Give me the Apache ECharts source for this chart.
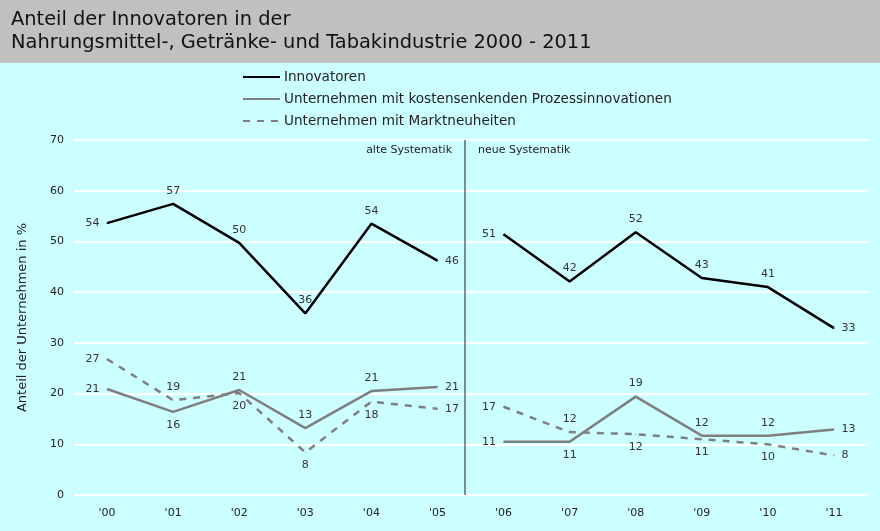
<!DOCTYPE html>
<html>
<head>
<meta charset="utf-8">
<script src="https://cdn.jsdelivr.net/npm/echarts@6/dist/echarts.min.js"></script>
<style>
  html, body { margin: 0; padding: 0; background: #ccffff; }
  #chart { width: 880px; height: 531px; }
</style>
</head>
<body>
<div id="chart"></div>
<script>
// Jahre (Kategorien)
const years = ["'00", "'01", "'02", "'03", "'04", "'05", "'06", "'07", "'08", "'09", "'10", "'11"];

// Anteile in %
const innovatoren = [53.6, 57.4, 49.7, 35.8, 53.5, 46.2, 51.4, 42.1, 51.8, 42.8, 41.0, 32.9];
const prozess = [20.9, 16.4, 20.7, 13.2, 20.5, 21.3, 10.5, 10.5, 19.4, 11.7, 11.7, 12.9];
const markt = [26.8, 18.7, 20.1, 8.4, 18.4, 17.0, 17.4, 12.4, 12.0, 11.0, 10.0, 7.8];

// Bruch zwischen alter und neuer Systematik (nach '05)
const splitIndex = 6;

// wo die Werte-Beschriftung sitzt
const posInno = ['left', 'top', 'top', 'top', 'top', 'right', 'left', 'top', 'top', 'top', 'top', 'right'];
const posProz = ['left', 'bottom', 'top', 'top', 'top', 'right', 'left', 'bottom', 'top', 'top', 'top', 'right'];
const posMarkt = ['left', 'top', 'bottom', 'bottom', 'bottom', 'right', 'left', 'top', 'bottom', 'bottom', 'bottom', 'right'];

const font = 'DejaVu Sans';

// Teilstück (alt oder neu) einer Reihe, Rest bleibt leer
function part(values, positions, newPart) {
    return values.map((v, i) => {
        const inside = newPart ? i >= splitIndex : i < splitIndex;
        if (!inside) return null;
        return { value: v, label: { position: positions[i] } };
    });
}

function makeSeries(name, values, positions, lineStyle) {
    return [false, true].map(newPart => ({
        name: name,
        type: 'line',
        data: part(values, positions, newPart),
        symbol: 'circle',
        symbolSize: 1,
        showSymbol: true,
        connectNulls: false,
        lineStyle: lineStyle,
        itemStyle: { color: lineStyle.color },
        label: {
            show: true,
            distance: 7,
            fontFamily: font,
            fontSize: 11,
            color: '#333',
            formatter: p => Math.round(p.value)
        },
        emphasis: { disabled: true },
        z: 3
    }));
}

const myChart = echarts.init(document.getElementById('chart'));

const option = {
    backgroundColor: '#ccffff',
    animation: false,
    graphic: [
        {
            type: 'rect',
            left: 0,
            top: 0,
            shape: { width: 880, height: 63 },
            style: { fill: '#c0c0c0' },
            z: -1
        },
        {
            type: 'text',
            right: 880 - 452,
            top: 145,
            style: { text: 'alte Systematik', font: '11px DejaVu Sans', fill: '#222' }
        },
        {
            type: 'text',
            left: 478,
            top: 145,
            style: { text: 'neue Systematik', font: '11px DejaVu Sans', fill: '#222' }
        }
    ],
    title: {
        text: 'Anteil der Innovatoren in der\nNahrungsmittel-, Getränke- und Tabakindustrie 2000 - 2011',
        left: 6,
        top: 3,
        textStyle: {
            fontFamily: font,
            fontSize: 19.4,
            fontWeight: 'normal',
            lineHeight: 23,
            color: '#111'
        }
    },
    legend: {
        orient: 'vertical',
        left: 242,
        top: 70,
        padding: 0,
        itemWidth: 37,
        itemHeight: 14,
        itemGap: 8,
        selectedMode: false,
        itemStyle: { color: 'rgba(0,0,0,0)', borderWidth: 0 },
        data: ['Innovatoren', 'Unternehmen mit kostensenkenden Prozessinnovationen', 'Unternehmen mit Marktneuheiten'],
        textStyle: {
            fontFamily: font,
            fontSize: 13.6,
            color: '#222',
            padding: [0, 0, 0, -1]
        }
    },
    grid: {
        left: 74,
        right: 13,
        top: 140,
        bottom: 36
    },
    xAxis: [
        {
            type: 'category',
            data: years,
            boundaryGap: true,
            axisLine: { show: false },
            axisTick: { show: false },
            axisLabel: { fontFamily: font, fontSize: 11, color: '#222', margin: 13 }
        },
        {
            // Hilfsachse für die Trennlinie
            type: 'value',
            min: 0,
            max: years.length,
            show: false
        }
    ],
    yAxis: {
        type: 'value',
        min: 0,
        max: 70,
        interval: 10,
        name: 'Anteil der Unternehmen in %',
        nameLocation: 'middle',
        nameGap: 45,
        nameTextStyle: { fontFamily: font, fontSize: 13, color: '#222' },
        axisLine: { show: false },
        axisTick: { show: false },
        axisLabel: { fontFamily: font, fontSize: 11, color: '#222', margin: 10 },
        splitLine: { lineStyle: { color: '#ffffff', width: 2 } }
    },
    series: [
        ...makeSeries('Innovatoren', innovatoren, posInno, { color: '#000000', width: 2.5 }),
        ...makeSeries('Unternehmen mit kostensenkenden Prozessinnovationen', prozess, posProz, { color: '#7f7f7f', width: 2.5 }),
        ...makeSeries('Unternehmen mit Marktneuheiten', markt, posMarkt, { color: '#7f7f7f', width: 2.5, type: [7, 7] }),
        {
            type: 'line',
            xAxisIndex: 1,
            data: [],
            markLine: {
                symbol: 'none',
                silent: true,
                label: { show: false },
                lineStyle: { color: '#5a6a6a', type: 'solid', width: 1.5 },
                data: [{ xAxis: 5.92 }]
            }
        }
    ]
};

myChart.setOption(option);
</script>
</body>
</html>
